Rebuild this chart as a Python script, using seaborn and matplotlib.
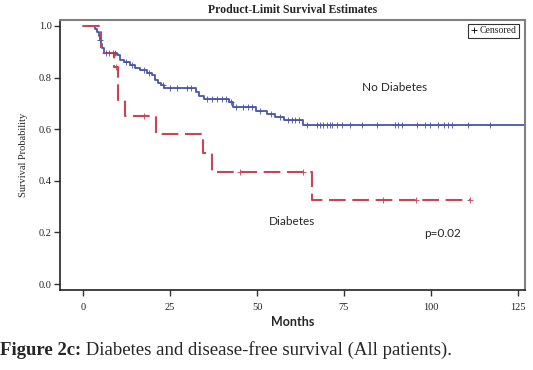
import numpy as np
import pandas as pd
import matplotlib
matplotlib.use("Agg")
import matplotlib.pyplot as plt
from matplotlib.lines import Line2D
import seaborn as sns

# Kaplan-Meier steps (months, survival after the step)
no_dm_times = [0, 3.4, 4.0, 4.5, 4.9, 5.2, 5.5, 5.9, 9.8, 10.6, 11.8, 13.5, 14.9, 16.4,
               18.4, 19.8, 20.7, 21.6, 22.4, 23.3, 32.5, 33.3, 34.8, 42.0, 43.0, 49.7,
               52.9, 55.2, 57.8, 63.1, 127.0]
no_dm_surv = [1.0, 0.99, 0.975, 0.96, 0.945, 0.93, 0.915, 0.897, 0.886, 0.868, 0.86, 0.849,
              0.837, 0.829, 0.819, 0.81, 0.79, 0.78, 0.771, 0.76, 0.744, 0.729, 0.716,
              0.705, 0.686, 0.672, 0.659, 0.647, 0.637, 0.618, 0.618]
no_dm_censor = [5.0, 6.5, 7.5, 8.5, 9.3, 12.5, 14.0, 17.5, 19.0, 23.0, 25.0, 27.0, 30.0,
                31.0, 35.5, 37.0, 38.5, 40.0, 41.0, 42.5, 44.0, 46.0, 47.5, 48.5, 51.0,
                54.0, 56.5, 59.0, 60.0, 61.0, 62.0, 64.3, 67.1, 68.1, 69.1, 70.0, 71.0,
                71.5, 72.9, 74.4, 76.7, 80.1, 84.4, 89.7, 90.6, 91.6, 95.9, 98.3, 99.7,
                102.1, 103.6, 105.0, 106.0, 110.7, 117.0]

dm_times = [0, 5.2, 9.0, 10.0, 12.0, 21.0, 34.5, 37.1, 65.7, 111.2]
dm_surv = [1.0, 0.895, 0.84, 0.713, 0.651, 0.58, 0.508, 0.435, 0.326, 0.326]
dm_censor = [9.5, 17.5, 45.0, 63.1, 86.2, 95.7, 111.2]

x_ticks = [0, 25, 50, 75, 100, 125]
y_ticks = [0.0, 0.2, 0.4, 0.6, 0.8, 1.0]

blue = "#4a56aa"
red = "#c84456"


def censor_y(times, surv, ct):
    idx = np.searchsorted(times, ct, side="right") - 1
    return np.asarray(surv)[idx]


sns.set_theme(style="ticks")
plt.rcParams["font.family"] = ["Liberation Serif", "DejaVu Serif"]

fig = plt.figure(figsize=(5.33, 3.70), dpi=100)
ax = fig.add_axes([0.1126, 0.2162, 0.8724, 0.7297])

df_no = pd.DataFrame({"t": no_dm_times, "s": no_dm_surv})
df_dm = pd.DataFrame({"t": dm_times, "s": dm_surv})

sns.lineplot(data=df_no, x="t", y="s", ax=ax, color=blue, lw=1.3,
             drawstyle="steps-post", estimator=None)
sns.lineplot(data=df_dm, x="t", y="s", ax=ax, color=red, lw=1.5,
             drawstyle="steps-post", estimator=None, linestyle=(0, (8, 3.2)))

cn = pd.DataFrame({"t": no_dm_censor,
                   "s": censor_y(no_dm_times, no_dm_surv, no_dm_censor)})
cd = pd.DataFrame({"t": dm_censor,
                   "s": censor_y(dm_times, dm_surv, dm_censor)})
ax.plot(cn["t"], cn["s"], ls="none", marker="+", ms=5, mew=0.7, color=blue, alpha=0.9)
ax.plot(cd["t"], cd["s"], ls="none", marker="+", ms=5, mew=0.7, color=red, alpha=0.9)

ax.set_xlim(-6.6, 127.0)
ax.set_ylim(-0.023, 1.023)
ax.set_xticks(x_ticks)
ax.set_yticks(y_ticks)
ax.set_yticklabels([f"{v:.1f}" for v in y_ticks])
ax.tick_params(axis="both", labelsize=7.5, length=4, width=1.0, color="#333333",
               labelcolor="#222222", pad=2)
ax.tick_params(axis="x", pad=5)
ax.set_xlabel("Months", fontsize=9, fontweight="bold", family="Lato", labelpad=3)
ax.set_ylabel("Survival Probability", fontsize=7.5, labelpad=8)

for side in ["left", "bottom"]:
    ax.spines[side].set_color("#222222")
    ax.spines[side].set_linewidth(1.2)
for side in ["top", "right"]:
    ax.spines[side].set_visible(True)
    ax.spines[side].set_color("#808080")
    ax.spines[side].set_linewidth(1.5)

ax.set_title("Product-Limit Survival Estimates", fontsize=8.5, fontweight="bold", pad=5)

ax.text(89.4, 0.76, "No Diabetes", fontsize=8.5, family="Lato", ha="center", va="center")
ax.text(60, 0.244, "Diabetes", fontsize=8.5, family="Lato", ha="center", va="center")
ax.text(103.4, 0.194, "p=0.02", fontsize=8.5, family="Lato", ha="center", va="center")

handle = Line2D([], [], ls="none", marker="+", color="black", ms=5, mew=0.6)
leg = ax.legend([handle], ["Censored"], loc="upper right", bbox_to_anchor=(0.987, 0.985),
                borderaxespad=0, fontsize=7, frameon=True, fancybox=False,
                handlelength=0.6, handletextpad=0.3, borderpad=0.25)
leg.get_frame().set_edgecolor("black")
leg.get_frame().set_linewidth(0.8)

t1 = fig.text(0.0, 0.03, "Figure 2c:", fontsize=13.5, fontweight="bold", va="bottom")
ax.annotate(" Diabetes and disease-free survival (All patients).", xy=(1, 0),
            xycoords=t1, va="bottom", ha="left", fontsize=13.5, annotation_clip=False)

fig.savefig("out.png", dpi=100)
